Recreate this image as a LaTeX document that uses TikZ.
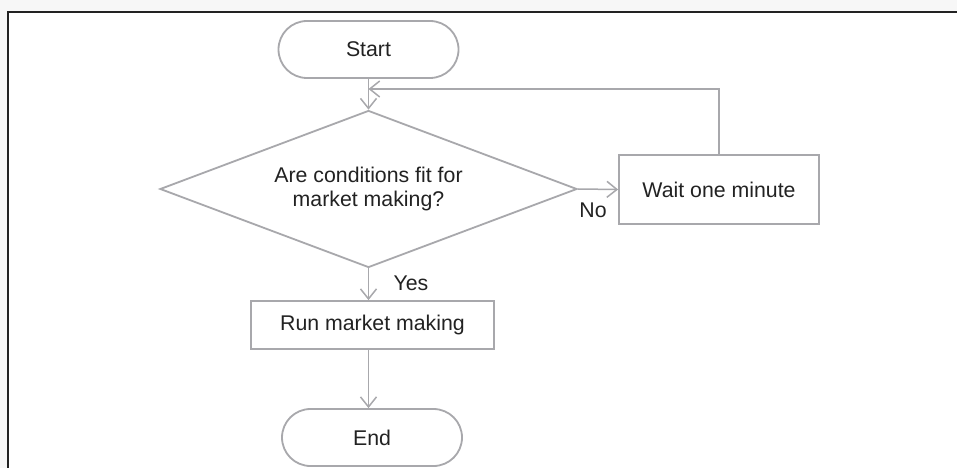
\documentclass[tikz,border=0pt]{standalone}
\usepackage{fontspec}
\setmainfont{Liberation Sans}
\usetikzlibrary{shapes.geometric,shapes.misc,arrows.meta}
\definecolor{lgray}{RGB}{168,168,172}
\definecolor{txt}{RGB}{34,34,34}
\definecolor{frame}{RGB}{34,34,34}
\begin{document}
\begin{tikzpicture}[x=1pt,y=-1pt,
  font=\fontsize{21.3}{24}\selectfont, text=txt,
  shp/.style={draw=lgray,line width=1.8pt,inner sep=0pt,align=center},
  pill/.style={shp,rounded rectangle,minimum width=180pt,minimum height=57pt},
  boxr/.style={shp,rectangle},
  dia/.style={shp,diamond,minimum width=417pt,minimum height=157pt,aspect=2.66},
  arr/.style={draw=lgray,line width=1.5pt,-{Straight Barb[length=10pt,width=16pt,line width=1.5pt]}},
  lbl/.style={inner sep=0pt}]
\useasboundingbox (0,0) rectangle (957,468);
\fill[black!3] (0,0) rectangle (957,12);
\fill[black!3] (0,0) rectangle (8,468);
\fill[white] (8,12) rectangle (957,468);
\draw[frame,line width=2.5pt] (957,12) -- (8,12) -- (8,468);

\node[pill] (start) at (368.5,49.5) {Start};
\node[dia] (dec) at (368.5,189) {Are conditions fit for\\market making?};
\node[boxr,minimum width=200pt,minimum height=69pt] (wait) at (719,189.5) {Wait one minute};
\node[boxr,minimum width=243pt,minimum height=48pt] (run) at (372.5,325) {Run market making};
\node[pill] (end) at (372,437.5) {End};

\coordinate (j) at (368.5,89);
\draw[arr] (start.south) -- (dec.north);
\draw[arr] (dec.east) -- (wait.west);
\draw[arr] (wait.north) |- (j);
\draw[arr] (dec.south) -- (dec.south |- run.north);
\draw[arr] (dec.south |- run.south) -- (dec.south |- end.north);

\node[lbl] (no) at (593,210) {No};
\node[lbl] (yes) at (411,283) {Yes};
\end{tikzpicture}
\end{document}
